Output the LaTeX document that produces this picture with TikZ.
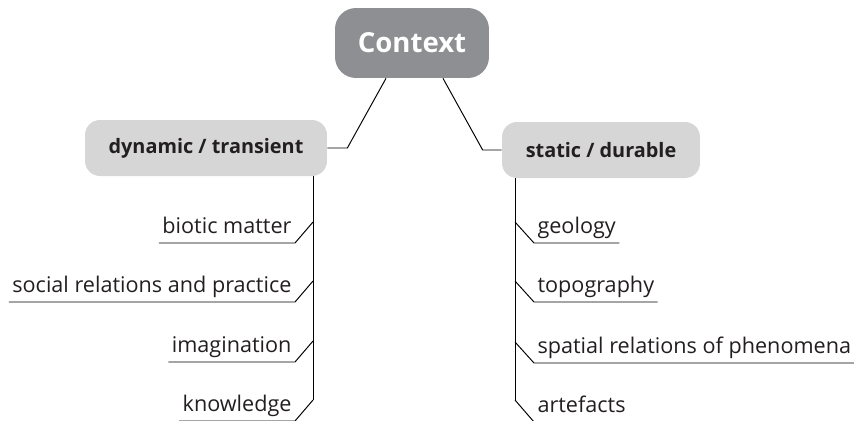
\documentclass[tikz,border=0pt]{standalone}
\usepackage{fontspec}
\setmainfont{Open Sans}
\usetikzlibrary{positioning}
\definecolor{ctxgray}{HTML}{8E8F92}
\definecolor{branchgray}{HTML}{D6D6D6}
\definecolor{leaftext}{HTML}{231F20}
\tikzset{
  root/.style={fill=ctxgray,rounded corners=0.42cm,text=white,minimum width=3.08cm,minimum height=1.4cm,font=\bfseries\fontsize{15.7}{18}\selectfont},
  branch/.style={fill=branchgray,rounded corners=0.3cm,text=leaftext,minimum height=1.12cm,font=\bfseries\fontsize{11.3}{13}\selectfont},
  leaf/.style={text=leaftext,inner xsep=1.8pt,inner ysep=0pt,text depth=5.4pt,font=\fontsize{12.3}{14}\selectfont},
  link/.style={line width=0.55pt}
}
\begin{document}
\begin{tikzpicture}[x=0.02cm,y=-0.02cm]
\useasboundingbox (0,0) rectangle (854,420);
\node[root] (ctx) at (412,43) {Context};
\node[branch,minimum width=4.84cm] (dyn) at (206,148) {dynamic / transient};
\node[branch,minimum width=3.96cm] (sta) at (601,150) {static / durable};

\draw[link] (dyn.east) -- ++(20,0) -- ([xshift=-0.52cm]ctx.south);
\draw[link] (sta.west) -- ++(-19,0) -- ([xshift=0.62cm]ctx.south);

% dynamic side
\coordinate (dtop) at (313,176);
\coordinate (d1) at (313,222);
\coordinate (d2) at (313,281);
\coordinate (d3) at (313,341);
\coordinate (d4) at (313,400);
\node[leaf,anchor=south east] (bio) at (295,243) {biotic matter};
\node[leaf,anchor=south east] (soc) at (295,302) {social relations and practice};
\node[leaf,anchor=south east] (ima) at (295,362) {imagination};
\node[leaf,anchor=south east] (kno) at (295,421) {knowledge};
\draw[link] (dtop) -- (d4);
\draw[link] (d1) -- (bio.south east) -- (bio.south west);
\draw[link] (d2) -- (soc.south east) -- (soc.south west);
\draw[link] (d3) -- (ima.south east) -- (ima.south west);
\draw[link] (d4) -- (kno.south east) -- (kno.south west);

% static side
\coordinate (stop) at (515,178);
\coordinate (s1) at (515,222);
\coordinate (s2) at (515,281);
\coordinate (s3) at (515,342);
\coordinate (s4) at (515,400);
\node[leaf,anchor=south west] (geo) at (534,243) {geology};
\node[leaf,anchor=south west] (top) at (534,302) {topography};
\node[leaf,anchor=south west] (spa) at (534,363) {spatial relations of phenomena};
\node[leaf,anchor=south west] (art) at (534,422) {artefacts};
\draw[link] (stop) -- (s4);
\draw[link] (s1) -- (geo.south west) -- (geo.south east);
\draw[link] (s2) -- (top.south west) -- (top.south east);
\draw[link] (s3) -- (spa.south west) -- (spa.south east);
\draw[link] (s4) -- (art.south west) -- (art.south east);
\end{tikzpicture}
\end{document}
